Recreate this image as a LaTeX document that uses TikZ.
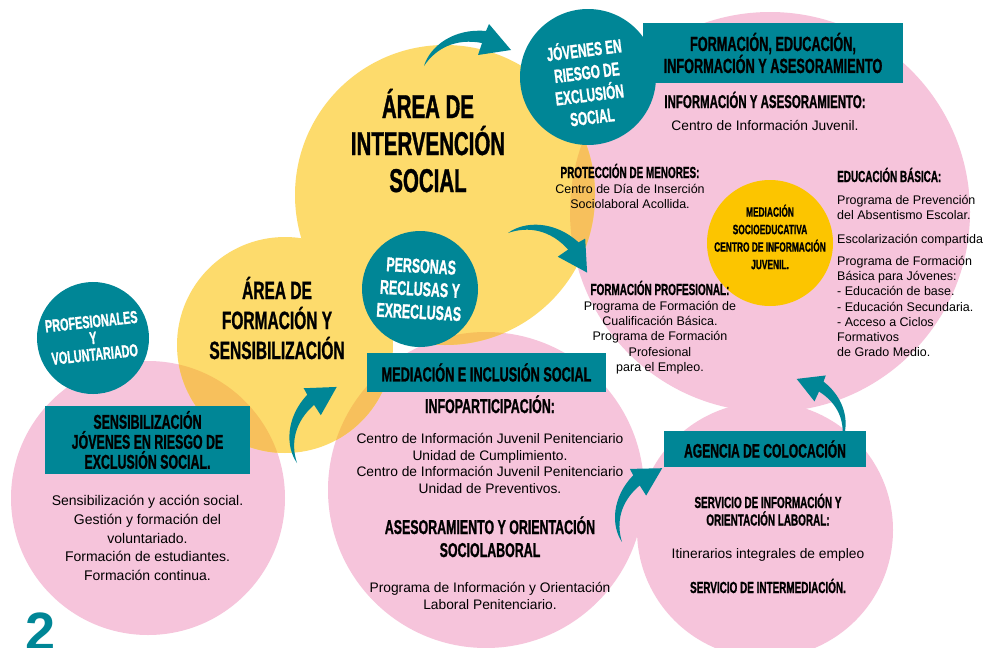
\documentclass[tikz,border=0pt]{standalone}
\usepackage{fontspec}
\setmainfont{Liberation Sans}
\newfontfamily\titfont[FakeStretch=0.62, FakeBold=1]{Liberation Sans}
\newcommand{\fuentetit}[2]{\titfont\bfseries\fontsize{#1}{#2}\selectfont}
\newcommand{\fuente}[2]{\fontsize{#1}{#2}\selectfont}
\usetikzlibrary{positioning}

\definecolor{azulverde}{RGB}{0,134,150}
\definecolor{rosa}{RGB}{246,196,219}
\definecolor{amarillo}{RGB}{253,219,108}
\definecolor{naranja}{RGB}{247,192,92}
\definecolor{oro}{RGB}{252,197,0}

\tikzset{
    flecha/.pic={
        \fill[azulverde] (0,0) .. controls (6,20) and (30,38) .. (62,35)
            -- (65,42) -- (87,16) -- (54,11) -- (58,23)
            .. controls (32,28) and (12,18) .. (0,0) -- cycle;
    }
}

\begin{document}
\begin{tikzpicture}[
    x=1pt, y=1pt,
    inner sep=0pt,
    bola/.style={circle, fill=azulverde, text=white, align=center},
    rotulo/.style={rectangle, fill=azulverde, text=black, align=center},
    titulo/.style={text=black, align=center, anchor=base},
    subtit/.style={text=black, align=center, anchor=base},
    cuerpo/.style={align=center, font=\fuente{13.8}{16.6}},
    cuerpop/.style={align=center, font=\fuente{12.5}{15.2}}
]

\useasboundingbox (0,0) rectangle (991,-648);
\fill[white] (0,0) rectangle (991,-648);

% circulos
\fill[rosa] (770,-212) circle (200pt);
\fill[rosa] (148,-498) circle (137pt);
\fill[rosa] (486,-490) circle (158pt);
\fill[rosa] (765,-530) circle (128pt);
\fill[amarillo] (445,-195) circle (150pt);
\fill[amarillo] (285,-345) circle (108pt);
\begin{scope}
    \clip (445,-195) circle (150pt);
    \fill[naranja] (770,-212) circle (200pt);
    \fill[naranja] (486,-490) circle (158pt);
\end{scope}
\begin{scope}
    \clip (285,-345) circle (108pt);
    \fill[naranja] (148,-498) circle (137pt);
    \fill[naranja] (486,-490) circle (158pt);
\end{scope}

\node[bola, minimum size=136pt] (jovenes) at (588,-77) {};
\node[text=white, align=center, rotate=7, font=\fuentetit{19}{22.5}] (jovenestxt) at (588,-82) {JÓVENES EN\\RIESGO DE\\EXCLUSIÓN\\SOCIAL};
\node[bola, minimum size=116pt, rotate=-3, font=\fuentetit{20}{23}] (personas) at (420,-289) {PERSONAS\\RECLUSAS Y\\EXRECLUSAS};
\node[bola, minimum size=112pt, rotate=6, font=\fuentetit{17.5}{16.5}] (profesionales) at (93,-338) {PROFESIONALES\\Y\\VOLUNTARIADO};
\node[circle, fill=oro, minimum size=126pt] (socioeducativa) at (770,-243) {};
\node[align=center, font=\fuentetit{13.5}{17.5}] (socioeducativatxt) at (770,-237) {MEDIACIÓN\\SOCIOEDUCATIVA\\CENTRO DE INFORMACIÓN\\JUVENIL.};

% flechas
\pic at (424,-66) {flecha};
\pic[rotate=-37] at (508,-233) {flecha};
\pic[rotate=52, scale=0.97] at (297,-463) {flecha};
\pic[rotate=51, scale=0.95] at (622,-542) {flecha};
\pic[rotate=-43, xscale=-1, scale=0.86] at (842,-440) {flecha};

% rotulos
\node[rotulo, minimum width=260pt, minimum height=60pt, font=\fuentetit{20.5}{22}] (formacion) at (773,-53) {FORMACIÓN, EDUCACIÓN,\\INFORMACIÓN Y ASESORAMIENTO};
\node[rotulo, minimum width=205pt, minimum height=68pt, font=\fuentetit{20}{20}] (sensib) at (147.5,-440) {SENSIBILIZACIÓN\\JÓVENES EN RIESGO DE\\EXCLUSIÓN SOCIAL.};
\node[rotulo, minimum width=239pt, minimum height=39pt, font=\fuentetit{20.5}{22}] (mediacion) at (486.5,-372.5) {MEDIACIÓN E INCLUSIÓN SOCIAL};
\node[rotulo, minimum width=202pt, minimum height=36pt, font=\fuentetit{19.5}{21}] (agencia) at (765,-449) {AGENCIA DE COLOCACIÓN};

% areas
\node[titulo, font=\fuentetit{33}{37}] (intervencion) at (428,-192) {ÁREA DE\\INTERVENCIÓN\\SOCIAL};
\node[titulo, font=\fuentetit{25}{30}] (formsens) at (277,-359) {ÁREA DE\\FORMACIÓN Y\\SENSIBILIZACIÓN};

% formacion, educacion...
\node[subtit, font=\fuentetit{18.5}{20}] (infoasesor) at (765,-108) {INFORMACIÓN Y ASESORAMIENTO:};
\node[cuerpo, below=12pt of infoasesor] (cij) {Centro de Información Juvenil.};
\node[subtit, font=\fuentetit{16}{18}] (proteccion) at (630,-178) {PROTECCIÓN DE MENORES:};
\node[cuerpop, below=5.7pt of proteccion] (acollida) {Centro de Día de Inserción\\Sociolaboral Acollida.};
\node[subtit, font=\fuentetit{16}{18}, anchor=base west] (basica) at (837,-182) {EDUCACIÓN BÁSICA:};
\node[cuerpop, align=left, below=12.7pt of basica.south west, anchor=north west] (programas) {Programa de Prevención\\del Absentismo Escolar.\\[9pt]Escolarización compartida\\[6.5pt]Programa de Formación\\Básica para Jóvenes:\\- Educación de base.\\- Educación Secundaria.\\- Acceso a Ciclos\\Formativos\\de Grado Medio.};
\node[subtit, font=\fuentetit{16}{18}] (profesional) at (660,-295) {FORMACIÓN PROFESIONAL:};
\node[cuerpop, below=5.7pt of profesional] (cualificacion) {Programa de Formación de\\Cualificación Básica.\\Programa de Formación\\Profesional\\para el Empleo.};

% mediacion e inclusion
\node[subtit, font=\fuentetit{20}{22}] (infopart) at (490,-413) {INFOPARTICIPACIÓN:};
\node[cuerpo, below=20pt of infopart] (penitenciario) {Centro de Información Juvenil Penitenciario\\Unidad de Cumplimiento.\\Centro de Información Juvenil Penitenciario\\Unidad de Preventivos.};
\node[subtit, font=\fuentetit{20}{23}] (asesoramiento) at (490,-557) {ASESORAMIENTO Y ORIENTACIÓN\\SOCIOLABORAL};
\node[cuerpo, below=25pt of asesoramiento] (orientacion) {Programa de Información y Orientación\\Laboral Penitenciario.};

% agencia
\node[subtit, font=\fuentetit{16}{17.5}] (servinfo) at (768,-525.5) {SERVICIO DE INFORMACIÓN Y\\ORIENTACIÓN LABORAL:};
\node[cuerpo, below=22.5pt of servinfo] (itinerarios) {Itinerarios integrales de empleo};
\node[subtit, font=\fuentetit{16}{18}] (intermediacion) at (768,-593) {SERVICIO DE INTERMEDIACIÓN.};

% sensibilizacion
\node[cuerpo, font=\fuente{14}{18.7}, below=21pt of sensib] (voluntariado) {Sensibilización y acción social.\\Gestión y formación del\\voluntariado.\\Formación de estudiantes.\\Formación continua.};

\node[font=\bfseries\fontsize{54}{54}\selectfont, text=azulverde, anchor=base west] (numero) at (25,-650) {2};

\end{tikzpicture}
\end{document}
